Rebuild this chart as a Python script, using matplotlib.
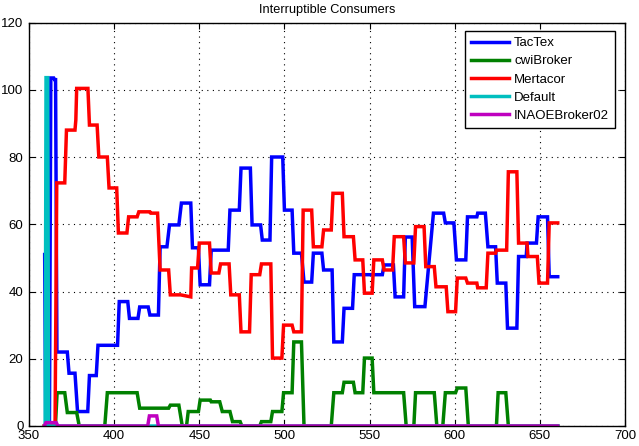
import matplotlib
matplotlib.use("Agg")
import matplotlib.pyplot as plt

plt.rcParams['font.family'] = ['Liberation Sans', 'DejaVu Sans']

title = "Interruptible Consumers"
series_names = ["TacTex", "cwiBroker", "Mertacor", "Default", "INAOEBroker02"]
series_colors = ["#0000ff", "#008000", "#ff0000", "#00bfbf", "#bf00bf"]

x_ticks = [350, 400, 450, 500, 550, 600, 650, 700]
y_ticks = [0, 20, 40, 60, 80, 100, 120]

tactex_x = [359.2, 359.8, 362.0, 362.8, 364.5, 365.0, 365.6, 366.4,
            372.5, 373.5, 377.0, 378.5, 384.5, 385.5, 389.5, 390.5,
            402.0, 403.0, 408.0, 409.0, 414.0, 415.0, 420.0, 421.0,
            426.0, 427.0, 431.0, 432.5, 438.0, 439.5, 445.0, 446.0,
            449.5, 450.5, 456.0, 457.0, 467.0, 468.0, 473.5, 474.5,
            480.0, 481.0, 486.0, 487.0, 491.5, 492.5, 499.0, 500.0,
            504.5, 505.5, 510.0, 511.5, 516.0, 517.0, 522.0, 523.0,
            528.0, 529.0, 534.0, 535.0, 540.0, 541.0, 557.5, 558.5,
            564.0, 565.0, 570.0, 571.0, 575.0, 576.5, 582.5, 587.5,
            593.5, 594.5, 599.5, 601.0, 606.5, 607.5, 613.0, 613.5,
            618.0, 619.5, 624.0, 625.0, 630.0, 631.0, 636.5, 637.5,
            642.0, 642.5, 648.0, 649.0, 654.5, 655.5, 660.5]
tactex_y = [51.0, 0.0, 0.0, 103.5, 103.5, 103.0, 103.0, 22.0,
            22.0, 15.7, 15.7, 4.3, 4.3, 15.0, 15.0, 24.0,
            24.0, 37.0, 37.0, 32.0, 32.0, 35.4, 35.4, 33.0,
            33.0, 53.3, 53.3, 59.8, 59.8, 66.3, 66.3, 53.0,
            53.0, 42.0, 42.0, 52.3, 52.3, 64.2, 64.2, 76.7,
            76.7, 59.8, 59.8, 55.3, 55.3, 80.0, 80.0, 64.2,
            64.2, 51.4, 51.4, 42.8, 42.8, 51.4, 51.4, 46.4,
            46.4, 25.0, 25.0, 35.0, 35.0, 45.0, 45.0, 47.9,
            47.9, 38.4, 38.4, 56.2, 56.2, 35.5, 35.5, 63.3,
            63.3, 60.4, 60.4, 49.4, 49.4, 62.2, 62.2, 63.3,
            63.3, 53.3, 53.3, 42.5, 42.5, 29.1, 29.1, 50.4,
            50.4, 54.4, 54.4, 62.2, 62.2, 44.4, 44.4]

cwi_x = [359.0, 365.5, 366.5, 371.0, 372.5, 378.0, 379.5, 394.5,
         396.0, 413.5, 415.0, 432.0, 433.0, 438.0, 440.0, 442.5,
         443.5, 449.5, 450.5, 456.5, 457.0, 462.0, 463.5, 468.0,
         469.5, 474.0, 475.0, 485.5, 486.5, 492.0, 493.0, 498.5,
         499.5, 504.5, 505.5, 510.0, 511.5, 527.5, 529.0, 534.0,
         535.0, 540.5, 541.5, 546.0, 547.0, 551.5, 552.5, 570.0,
         571.5, 576.0, 577.0, 588.0, 589.5, 593.0, 594.5, 600.5,
         601.5, 606.5, 608.0, 624.5, 625.5, 630.0, 631.5, 660.5]
cwi_y = [0.0, 0.0, 9.9, 9.9, 4.0, 4.0, 0.0, 0.0,
         9.9, 9.9, 5.3, 5.3, 6.2, 6.2, 0.0, 0.0,
         4.3, 4.3, 7.7, 7.7, 7.2, 7.2, 4.3, 4.3,
         1.3, 1.3, 0.0, 0.0, 1.3, 1.3, 4.3, 4.3,
         9.9, 9.9, 25.0, 25.0, 0.0, 0.0, 9.9, 9.9,
         13.0, 13.0, 9.9, 9.9, 20.2, 20.2, 9.9, 9.9,
         0.0, 0.0, 9.9, 9.9, 0.0, 0.0, 9.9, 9.9,
         11.3, 11.3, 0.0, 0.0, 9.9, 9.9, 0.0, 0.0]

mertacor_x = [359.0, 365.3, 366.3, 371.0, 372.0, 377.0, 377.5, 378.0,
              384.6, 385.5, 390.0, 391.0, 396.0, 397.0, 401.5, 402.5,
              407.5, 408.5, 413.5, 414.5, 421.0, 421.5, 425.5, 427.0,
              432.0, 433.0, 439.0, 445.0, 445.5, 449.0, 450.0, 456.0,
              457.0, 461.5, 462.5, 467.5, 468.5, 473.5, 474.5, 479.5,
              480.5, 485.5, 486.5, 492.0, 493.0, 498.5, 499.5, 504.5,
              505.5, 510.0, 511.0, 516.0, 517.0, 522.0, 523.0, 527.5,
              528.5, 534.0, 535.0, 540.5, 541.5, 546.0, 547.0, 551.5,
              552.5, 557.5, 558.5, 563.5, 564.5, 570.0, 571.0, 576.0,
              577.0, 582.0, 583.0, 588.0, 589.0, 595.0, 596.0, 600.5,
              601.5, 606.5, 607.5, 613.0, 613.5, 618.5, 619.5, 624.0,
              624.5, 630.5, 631.5, 636.5, 637.5, 642.5, 643.0, 648.5,
              649.5, 654.5, 655.5, 660.5]
mertacor_y = [0.0, 0.0, 72.3, 72.3, 88.0, 88.0, 91.0, 100.4,
              100.4, 89.5, 89.5, 80.0, 80.0, 70.8, 70.8, 57.4,
              57.4, 62.2, 62.2, 63.7, 63.7, 63.3, 63.3, 46.4,
              46.4, 39.0, 39.0, 38.4, 47.0, 47.0, 54.4, 54.4,
              45.5, 45.5, 48.2, 48.2, 39.0, 39.0, 28.0, 28.0,
              45.0, 45.0, 48.2, 48.2, 20.2, 20.2, 30.0, 30.0,
              28.0, 28.0, 64.2, 64.2, 53.3, 53.3, 58.3, 58.3,
              69.2, 69.2, 56.3, 56.3, 49.4, 49.4, 39.5, 39.5,
              49.4, 49.4, 46.4, 46.4, 56.3, 56.3, 48.5, 48.5,
              59.3, 59.3, 47.4, 47.4, 41.4, 41.4, 34.0, 34.0,
              44.0, 44.0, 42.5, 42.5, 41.1, 41.1, 51.4, 51.4,
              52.3, 52.3, 75.6, 75.6, 54.4, 54.4, 50.4, 50.4,
              42.5, 42.5, 60.4, 60.4]

default_x = [359.5, 360.0, 361.0, 361.5, 660.5]
default_y = [0.0, 103.6, 103.6, 0.0, 0.0]

inaoe_x = [359.0, 360.0, 366.0, 367.0, 419.7, 420.7, 425.0, 426.0, 660.5]
inaoe_y = [0.0, 1.0, 1.0, 0.0, 0.0, 3.0, 3.0, 0.0, 0.0]

xs = [tactex_x, cwi_x, mertacor_x, default_x, inaoe_x]
ys = [tactex_y, cwi_y, mertacor_y, default_y, inaoe_y]

fig = plt.figure(figsize=(6.39, 4.46), dpi=100)
fig.patch.set_facecolor('white')
ax = fig.add_axes([29/639, 1 - 426/446, 596/639, 403.5/446])

for x, y, name, c in zip(xs, ys, series_names, series_colors):
    ax.plot(x, y, color=c, lw=2.5, label=name, solid_joinstyle='miter')

ax.set_xlim(350, 700)
ax.set_ylim(0, 120)
ax.set_xticks(x_ticks)
ax.set_yticks(y_ticks)
ax.tick_params(direction='in', top=True, right=True, length=4, width=0.8,
               labelsize=9.5, colors='black')
ax.tick_params(axis='x', pad=3)
ax.tick_params(axis='y', pad=4)
ax.grid(True, color='black', linestyle=(0, (1, 4)), linewidth=0.8)
for s in ax.spines.values():
    s.set_linewidth(1.0)
    s.set_color('black')
ax.set_title(title, fontsize=9.2, pad=6.5)

leg = ax.legend(loc='upper right',
                bbox_to_anchor=((615 - 29) / 596, (426 - 31) / 403.5),
                bbox_transform=ax.transAxes, fontsize=9.5, frameon=True,
                fancybox=False, framealpha=1, edgecolor='black',
                handlelength=2.9, handletextpad=0.35, labelspacing=0.45,
                borderpad=0.45, borderaxespad=0.0)
leg.get_frame().set_linewidth(1.0)

fig.savefig("out.png", dpi=100, facecolor='white')
